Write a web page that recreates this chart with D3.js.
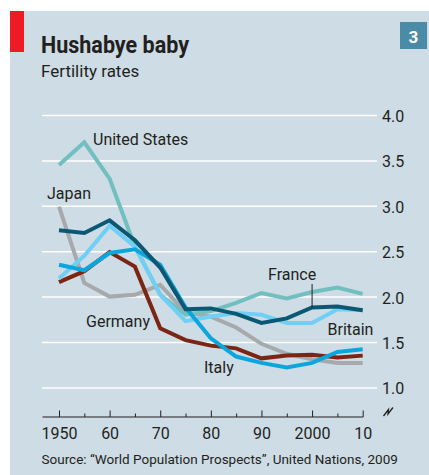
<!DOCTYPE html>
<html>
<head>
<meta charset="utf-8">
<script src="https://cdn.jsdelivr.net/npm/d3@7"></script>
<style>
  body { margin: 0; background: #fff; }
  text { font-family: Roboto, "Open Sans", sans-serif; fill: #231f20; }
</style>
</head>
<body>
<div id="chart"></div>
<script>
// fertility rates, one point every five years
var years = [1950, 1955, 1960, 1965, 1970, 1975, 1980, 1985, 1990, 1995, 2000, 2005, 2010];

var japan   = [2.99, 2.15, 2.00, 2.02, 2.13, 1.83, 1.78, 1.66, 1.48, 1.37, 1.31, 1.27, 1.27];
var germany = [2.16, 2.28, 2.49, 2.33, 1.65, 1.52, 1.46, 1.43, 1.32, 1.35, 1.36, 1.33, 1.35];
var us      = [3.45, 3.70, 3.30, 2.55, 2.02, 1.80, 1.84, 1.93, 2.04, 1.98, 2.05, 2.10, 2.03];
var britain = [2.20, 2.45, 2.78, 2.55, 2.02, 1.73, 1.78, 1.82, 1.80, 1.71, 1.71, 1.86, 1.85];
var italy   = [2.35, 2.29, 2.48, 2.52, 2.35, 1.88, 1.54, 1.34, 1.27, 1.22, 1.27, 1.39, 1.42];
var france  = [2.73, 2.70, 2.84, 2.62, 2.32, 1.86, 1.87, 1.81, 1.71, 1.76, 1.88, 1.89, 1.85];

var yTicks = [1.0, 1.5, 2.0, 2.5, 3.0, 3.5, 4.0];
var majorYears = [1950, 1960, 1970, 1980, 1990, 2000, 2010];
var minorYears = [1955, 1965, 1975, 1985, 1995, 2005];
var yearLabels = ["1950", "60", "70", "80", "90", "2000", "10"];

var width = 429, height = 475;

var svg = d3.select('#chart').append('svg')
  .attr('width', width)
  .attr('height', height);

// panel
svg.append('rect')
  .attr('x', 10).attr('y', 11)
  .attr('width', width - 10).attr('height', height - 11)
  .attr('fill', '#cddce5');

svg.append('rect')
  .attr('x', 10).attr('y', 11)
  .attr('width', 14).attr('height', 41)
  .attr('fill', '#ed1c24');

svg.append('rect')
  .attr('x', 400).attr('y', 22)
  .attr('width', 27).attr('height', 27)
  .attr('fill', '#4a8ca8');

svg.append('text')
  .attr('x', 413.5).attr('y', 42.5)
  .attr('text-anchor', 'middle')
  .style('fill', '#fff')
  .style('font-weight', 'bold')
  .style('font-size', '17px')
  .text('3');

svg.append('text')
  .attr('x', 41).attr('y', 53)
  .attr('textLength', 148)
  .attr('lengthAdjust', 'spacingAndGlyphs')
  .style('font-weight', 'bold')
  .style('font-size', '24px')
  .text('Hushabye baby');

svg.append('text')
  .attr('x', 41).attr('y', 76.5)
  .style('font-size', '17px')
  .text('Fertility rates');

const xScale = d3.scaleLinear()
  .domain([1950, 2010])
  .range([59, 362.7]);

const yScale = d3.scaleLinear()
  .domain([1, 4])
  .range([387.4, 115]);

// gridlines + right labels
var yAxis = svg.append('g')
  .attr('transform', 'translate(377,0)')
  .call(d3.axisRight(yScale)
    .tickValues(yTicks)
    .tickFormat(d3.format('.1f'))
    .tickSizeInner(-335)
    .tickSizeOuter(0)
    .tickPadding(5));

yAxis.select('.domain').remove();
yAxis.selectAll('line')
  .attr('stroke', '#fff')
  .attr('stroke-width', 1.5);
yAxis.selectAll('text')
  .attr('dy', '0.4em')
  .style('font-size', '16px')
  .style('font-family', 'Roboto, sans-serif')
  .style('fill', '#231f20');

// x axis
svg.append('line')
  .attr('x1', 42.5).attr('x2', xScale(2010) + 0.5)
  .attr('y1', 417).attr('y2', 417)
  .attr('stroke', '#231f20')
  .attr('stroke-width', 1);

var xAxis = svg.append('g')
  .attr('transform', 'translate(0,417)')
  .call(d3.axisBottom(xScale)
    .tickValues(majorYears)
    .tickFormat(function(d, i) { return yearLabels[i]; })
    .tickSizeInner(-6.5)
    .tickSizeOuter(0)
    .tickPadding(11));

var xMinor = svg.append('g')
  .attr('transform', 'translate(0,417)')
  .call(d3.axisBottom(xScale)
    .tickValues(minorYears)
    .tickFormat('')
    .tickSizeInner(-3.5)
    .tickSizeOuter(0));

[xAxis, xMinor].forEach(function(a) {
  a.select('.domain').remove();
  a.selectAll('line').attr('stroke', '#231f20').attr('stroke-width', 1);
});
xAxis.selectAll('text')
  .style('font-size', '16px')
  .style('font-family', 'Roboto, sans-serif')
  .style('fill', '#231f20');

// axis break mark
svg.append('path')
  .attr('d', 'M383.5,416 L388.5,409.5 L388,414 L393,407.5')
  .attr('fill', 'none')
  .attr('stroke', '#231f20')
  .attr('stroke-width', 1.3);

// lines
var series = [
  { name: 'Japan', values: japan, color: '#a7a9ac' },
  { name: 'Germany', values: germany, color: '#7b2512' },
  { name: 'United States', values: us, color: '#72bfc0' },
  { name: 'Britain', values: britain, color: '#6fcff5' },
  { name: 'Italy', values: italy, color: '#0ca6de' },
  { name: 'France', values: france, color: '#0b5874' }
];

var line = d3.line()
  .x(function(d, i) { return xScale(years[i]); })
  .y(function(d) { return yScale(d); });

svg.append('g')
  .selectAll('path').data(series)
  .enter().append('path')
    .attr('d', function(d) { return line(d.values); })
    .attr('fill', 'none')
    .attr('stroke', function(d) { return d.color; })
    .attr('stroke-width', 4)
    .attr('stroke-linejoin', 'miter');

// France leader line
svg.append('line')
  .attr('x1', xScale(2000)).attr('x2', xScale(2000))
  .attr('y1', 284).attr('y2', yScale(france[10]))
  .attr('stroke', '#231f20')
  .attr('stroke-width', 1);

var labels = [
  { text: 'United States', x: 93, y: 145 },
  { text: 'Japan', x: 47, y: 199 },
  { text: 'Germany', x: 86, y: 327 },
  { text: 'Italy', x: 204, y: 373 },
  { text: 'France', x: 268, y: 280 },
  { text: 'Britain', x: 327.5, y: 334.5 }
];

svg.append('g')
  .selectAll('text').data(labels)
  .enter().append('text')
    .attr('x', function(d) { return d.x; })
    .attr('y', function(d) { return d.y; })
    .style('font-size', '16px')
    .text(function(d) { return d.text; });

svg.append('text')
  .attr('x', 41.5).attr('y', 464)
  .style('font-size', '13.5px')
  .text('Source: \u201cWorld Population Prospects\u201d, United Nations, 2009');
</script>
</body>
</html>
